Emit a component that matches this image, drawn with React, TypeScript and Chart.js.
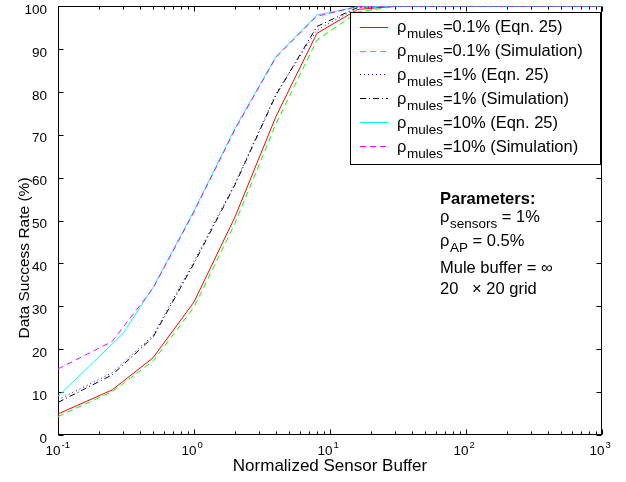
import React, { useEffect, useRef } from 'react';
import { Chart, registerables } from 'chart.js';

Chart.register(...registerables);

// ---------- data ----------
const bufferSizes = [0.1, 0.25, 0.5, 1, 2, 4, 8, 16, 32, 64, 128, 256, 512, 1000];
const bufferSizesEqn10 = [0.1, 0.3, 0.5, 1, 2, 4, 8, 16, 32, 64, 128, 256, 512, 1000];

const eqnMules01 = [4.9, 10.5, 18.0, 31.0, 50.8, 74.2, 93.6, 99.2, 100, 100, 100, 100, 100, 100];
const simMules01 = [4.3, 10.1, 17.2, 29.8, 49.3, 72.5, 92.0, 98.6, 100, 100, 100, 100, 100, 100];
const eqnMules1 = [8.2, 14.5, 23.2, 40.5, 58.6, 79.5, 94.4, 99.6, 100, 100, 100, 100, 100, 100];
const simMules1 = [7.6, 14.0, 22.8, 40.0, 58.3, 79.2, 95.2, 99.7, 100, 100, 100, 100, 100, 100];
const eqnMules10 = [9.0, 23.6, 34.4, 52.3, 71.5, 88.2, 97.9, 99.8, 100, 100, 100, 100, 100, 100];
const simMules10 = [15.4, 21.8, 34.2, 52.0, 71.2, 88.0, 97.6, 99.9, 100, 100, 100, 100, 100, 100];

const legendDensities = ['0.1%', '0.1%', '1%', '1%', '10%', '10%'];
const legendMethods = ['Eqn. 25', 'Simulation', 'Eqn. 25', 'Simulation', 'Eqn. 25', 'Simulation'];

const xTickExponents = [-1, 0, 1, 2, 3];
const yTickValues = [0, 10, 20, 30, 40, 50, 60, 70, 80, 90, 100];

const xAxisTitle = 'Normalized Sensor Buffer';
const yAxisTitle = 'Data Success Rate (%)';

const paramLines = [
  { base: 'Parameters:', sub: '', rest: '', bold: true },
  { base: 'ρ', sub: 'sensors', rest: ' = 1%', bold: false },
  { base: 'ρ', sub: 'AP', rest: ' = 0.5%', bold: false },
  { base: 'Mule buffer = ∞', sub: '', rest: '', bold: false },
  { base: '20   × 20 grid', sub: '', rest: '', bold: false },
];

// ---------- styles ----------
const seriesX = [bufferSizes, bufferSizes, bufferSizes, bufferSizes, bufferSizesEqn10, bufferSizes];
const seriesY = [eqnMules01, simMules01, eqnMules1, simMules1, eqnMules10, simMules10];
const seriesColors = ['#ff0000', '#00ff00', '#0000ff', '#000000', '#00ffff', '#ff00ff'];
const seriesDashes: number[][] = [[], [6, 4], [1, 3], [6, 3, 1, 3], [], [6, 4]];

const FONT = '"Liberation Sans", Arial, Helvetica, sans-serif';

function drawRich(ctx: CanvasRenderingContext2D, x: number, baseline: number, base: string, sub: string, rest: string, size: number, subSize: number, bold: boolean) {
  const w = bold ? 'bold ' : '';
  ctx.textAlign = 'left';
  ctx.textBaseline = 'alphabetic';
  ctx.font = `${w}${size}px ${FONT}`;
  ctx.fillText(base, x, baseline);
  let cx = x + ctx.measureText(base).width;
  if (sub) {
    ctx.font = `${w}${subSize}px ${FONT}`;
    ctx.fillText(sub, cx + 0.5, baseline + 6);
    cx += ctx.measureText(sub).width + 0.5;
  }
  if (rest) {
    ctx.font = `${w}${size}px ${FONT}`;
    ctx.fillText(rest, cx, baseline);
  }
}

const overlayPlugin = {
  id: 'matlabOverlay',
  beforeDatasetsDraw(chart: any) {
    const { ctx, chartArea: a, scales } = chart;
    const xs = scales.x;
    const ys = scales.y;
    ctx.save();
    ctx.strokeStyle = '#000';
    ctx.lineWidth = 1;
    ctx.setLineDash([]);
    const L = a.left + 0.5;
    const R = a.right - 0.5;
    const T = a.top + 0.5;
    const B = a.bottom - 0.5;
    ctx.strokeRect(L, T, R - L, B - T);
    ctx.beginPath();
    yTickValues.forEach((v) => {
      const py = Math.round(ys.getPixelForValue(v)) + 0.5;
      ctx.moveTo(L, py); ctx.lineTo(L + 5, py);
      ctx.moveTo(R, py); ctx.lineTo(R - 5, py);
    });
    xTickExponents.forEach((e, idx) => {
      const major = Math.pow(10, e);
      const px = Math.round(xs.getPixelForValue(major)) + 0.5;
      ctx.moveTo(px, B); ctx.lineTo(px, B - 5);
      ctx.moveTo(px, T); ctx.lineTo(px, T + 5);
      if (idx < xTickExponents.length - 1) {
        for (let m = 2; m <= 9; m++) {
          const mx = Math.round(xs.getPixelForValue(m * major)) + 0.5;
          ctx.moveTo(mx, B); ctx.lineTo(mx, B - 3);
          ctx.moveTo(mx, T); ctx.lineTo(mx, T + 3);
        }
      }
    });
    ctx.stroke();
    ctx.restore();
  },
  afterDraw(chart: any) {
    const { ctx, chartArea: a, scales } = chart;
    const xs = scales.x;
    ctx.save();
    ctx.fillStyle = '#000';
    // x tick labels 10^e
    xTickExponents.forEach((e) => {
      const px = xs.getPixelForValue(Math.pow(10, e));
      ctx.font = `13.5px ${FONT}`;
      ctx.textAlign = 'right';
      ctx.textBaseline = 'alphabetic';
      ctx.fillText('10', px + 2.5, a.bottom + 20);
      ctx.font = `9.5px ${FONT}`;
      ctx.textAlign = 'left';
      ctx.fillText(String(e), px + 3.5, a.bottom + 13);
    });

    // axis titles
    ctx.font = `17px ${FONT}`;
    ctx.textAlign = 'center';
    ctx.textBaseline = 'middle';
    ctx.fillText(xAxisTitle, (a.left + a.right) / 2, 466);
    ctx.save();
    ctx.translate(25, 258);
    ctx.rotate(-Math.PI / 2);
    ctx.font = `15.5px ${FONT}`;
    ctx.fillText(yAxisTitle, 0, 0);
    ctx.restore();

    // legend
    const lx = a.right - 252;
    const ly = a.top + 6;
    ctx.fillStyle = '#fff';
    ctx.fillRect(lx, ly, 250, 152);
    ctx.strokeStyle = '#000';
    ctx.lineWidth = 1;
    ctx.setLineDash([]);
    ctx.strokeRect(lx + 0.5, ly + 0.5, 250, 152);
    legendDensities.forEach((d, i) => {
      const baseline = ly + 20.3 + 23.85 * i;
      const lineY = Math.round(baseline - 5.6) + 0.5;
      ctx.beginPath();
      ctx.lineWidth = 1;
      ctx.strokeStyle = seriesColors[i];
      ctx.setLineDash(seriesDashes[i]);
      ctx.moveTo(lx + 10, lineY);
      ctx.lineTo(lx + 38, lineY);
      ctx.stroke();
      ctx.setLineDash([]);
      ctx.fillStyle = '#000';
      drawRich(ctx, lx + 47, baseline, 'ρ', 'mules', `=${d} (${legendMethods[i]})`, 16.5, 13.5, false);
    });

    // parameters annotation
    ctx.fillStyle = '#000';
    const baselines = [204, 222, 246, 273, 294];
    paramLines.forEach((p, i) => {
      drawRich(ctx, 440, baselines[i], p.base, p.sub, p.rest, 16.5, 13.5, p.bold);
    });
    ctx.restore();
  },
};

export default function App() {
  const ref = useRef<HTMLCanvasElement>(null);
  useEffect(() => {
    const datasets = seriesY.map((ys, i) => ({
      label: `ρmules=${legendDensities[i]} (${legendMethods[i]})`,
      data: seriesX[i].map((x, k) => ({ x, y: ys[k] })),
      borderColor: seriesColors[i],
      backgroundColor: seriesColors[i],
      borderWidth: 1,
      borderDash: seriesDashes[i],
      pointRadius: 0,
      fill: false,
      tension: 0,
      order: 5 - i,
    }));
    const chart = new Chart(ref.current as HTMLCanvasElement, {
      type: 'line',
      data: { datasets },
      options: {
        animation: false,
        responsive: false,
        devicePixelRatio: 1,
        layout: { padding: { top: 6, right: 24, left: 0, bottom: 0 } },
        plugins: { legend: { display: false }, tooltip: { enabled: false } },
        scales: {
          x: {
            type: 'logarithmic',
            min: 0.1,
            max: 1000,
            grid: { display: false },
            border: { display: false },
            ticks: { display: false },
            title: { display: false },
            afterFit: (s: any) => { s.height = 47; s.paddingLeft = 0; s.paddingRight = 0; },
          },
          y: {
            type: 'linear',
            min: 0,
            max: 100,
            grid: { display: false },
            border: { display: false },
            ticks: {
              stepSize: 10,
              color: '#000',
              padding: 3,
              labelOffset: 4,
              font: { family: FONT, size: 13.5 },
            },
            title: { display: false },
            afterFit: (s: any) => { s.width = 58; s.paddingTop = 0; s.paddingBottom = 0; },
          },
        },
      } as any,
      plugins: [overlayPlugin],
    });
    return () => chart.destroy();
  }, []);
  return (
    <div style={{ position: 'fixed', left: 0, top: 0, width: 626, height: 482, background: '#fff' }}>
      <canvas ref={ref} width={626} height={482} style={{ display: 'block', width: 626, height: 482 }} />
    </div>
  );
}
